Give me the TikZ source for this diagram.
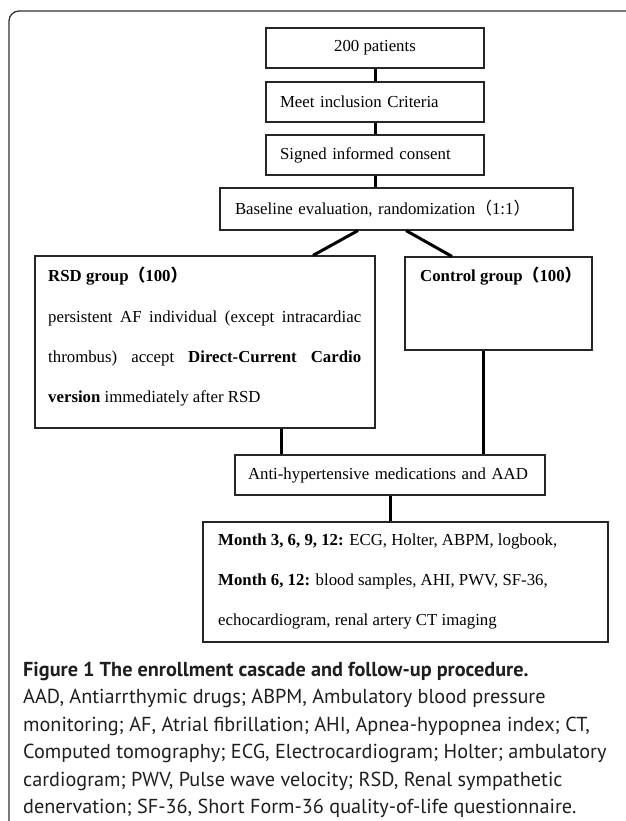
\documentclass[tikz,border=0pt]{standalone}
\usepackage{fontspec}
\setmainfont{Liberation Serif}
\newfontfamily\capfam{PT Sans}
\newfontfamily\cjk{Noto Sans CJK SC}
\usetikzlibrary{calc}
\newlength\calw
\settowidth\calw{\capfam\fontsize{10pt}{12pt}\selectfont cardiogram; PWV, Pulse wave velocity; RSD, Renal sympathe}
\pgfmathsetmacro\capsz{10*518/\calw}
\newcommand\capreg{\capfam\fontsize{\capsz pt}{\capsz pt}\selectfont}
\newcommand\capbold{\capfam\bfseries\fontsize{\capsz pt}{\capsz pt}\selectfont}
\newcommand\dfont{\fontsize{16.8pt}{20pt}\selectfont}
\newcommand\lp{{\cjk （}}
\newcommand\rp{{\cjk ）}}
\begin{document}
\begin{tikzpicture}[x=1pt,y=-1pt,
  box/.style={draw=black!85, line width=1.1pt, rectangle, inner sep=0pt, font=\dfont},
  conn/.style={line width=3pt, black},
  dtext/.style={font=\dfont, inner sep=0pt, anchor=base west},
  ctext/.style={font=\capreg, inner sep=0pt, anchor=base west, text=black!88},
  ttext/.style={font=\capbold, inner sep=0pt, anchor=base west, text=black!88}]
\fill[white] (0,0) rectangle (625,821);
\useasboundingbox (0,0) rectangle (625,821);
% outer frame
\draw[line width=1.3pt, black!80, rounded corners=10pt] (9,822) -- (9,11) -- (626,11);
% boxes
\node[box, minimum width=218pt, minimum height=40pt] (p200) at (375,48) {200 patients};
\node[box, minimum width=218pt, minimum height=40pt, text width=190pt, align=left] (meet) at (375,102) {Meet inclusion Criteria};
\node[box, minimum width=218pt, minimum height=40pt, text width=190pt, align=left] (signed) at (375,155) {Signed informed consent};
\node[box, minimum width=353pt, minimum height=42pt, text width=323pt, align=left] (base) at (396.5,209) {Baseline evaluation, randomization\lp1:1\rp};
\node[box, minimum width=340pt, minimum height=172pt] (rsd) at (205,342) {};
\node[box, minimum width=187pt, minimum height=93pt] (ctrl) at (498.5,303.5) {};
\node[box, minimum width=310pt, minimum height=40pt, text width=284pt, align=left] (anti) at (390,475) {Anti-hypertensive medications and AAD};
\node[box, minimum width=405pt, minimum height=120pt] (month) at (405.5,582) {};
% box texts
\node[dtext] (rsd1) at (48,281.5) {\textbf{RSD group\lp100\rp}};
\node[dtext] (rsd2) at (48,322.5) {\makebox[313pt][s]{persistent AF individual (except intracardiac}};
\node[dtext] (rsd3) at (48,362.5) {\makebox[313pt][s]{thrombus) accept \textbf{Direct-Current Cardio}}};
\node[dtext] (rsd4) at (48,402.5) {\textbf{version} immediately after RSD};
\node[dtext] (ctrl1) at (420,281.5) {\textbf{Control group\lp100\rp}};
\node[dtext] (mon1) at (218,545.5) {\textbf{Month 3, 6, 9, 12:} ECG, Holter, ABPM, logbook,};
\node[dtext] (mon2) at (218,585.5) {\textbf{Month 6, 12:} blood samples, AHI, PWV, SF-36,};
\node[dtext] (mon3) at (218,625.5) {echocardiogram, renal artery CT imaging};
% connector end points
\coordinate (bl) at ($(base.south)+(-38.5,0)$);
\coordinate (br) at ($(base.south)+(9.5,0)$);
\coordinate (rt) at ($(rsd.north)+(108,0)$);
\coordinate (ct) at ($(ctrl.north)+(-46.5,0)$);
\coordinate (rb) at ($(rsd.south)+(76,0)$);
\coordinate (cb) at ($(ctrl.south)+(-15.5,0)$);
% connectors
\draw[conn] (p200.south) -- (meet.north);
\draw[conn] (meet.south) -- (signed.north);
\draw[conn] (signed.south) -- (signed.south |- base.north);
\draw[conn] (bl) -- (rt);
\draw[conn] (br) -- (ct);
\draw[conn] (rb) -- (rb |- anti.north);
\draw[conn] (cb) -- (cb |- anti.north);
\draw[conn] (anti.south) -- (anti.south |- month.north);
% caption
\node[ttext] (cap0) at (23,676) {Figure 1 The enrollment cascade and follow-up procedure.};
\node[ctext] (cap1) at (23,703.5) {AAD, Antiarrthymic drugs; ABPM, Ambulatory blood pressure};
\node[ctext] (cap2) at (23,731) {monitoring; AF, Atrial fibrillation; AHI, Apnea-hypopnea index; CT,};
\node[ctext] (cap3) at (23,758.5) {Computed tomography; ECG, Electrocardiogram; Holter; ambulatory};
\node[ctext] (cap4) at (23,786) {cardiogram; PWV, Pulse wave velocity; RSD, Renal sympathetic};
\node[ctext] (cap5) at (23,813.5) {denervation; SF-36, Short Form-36 quality-of-life questionnaire.};
\end{tikzpicture}
\end{document}
